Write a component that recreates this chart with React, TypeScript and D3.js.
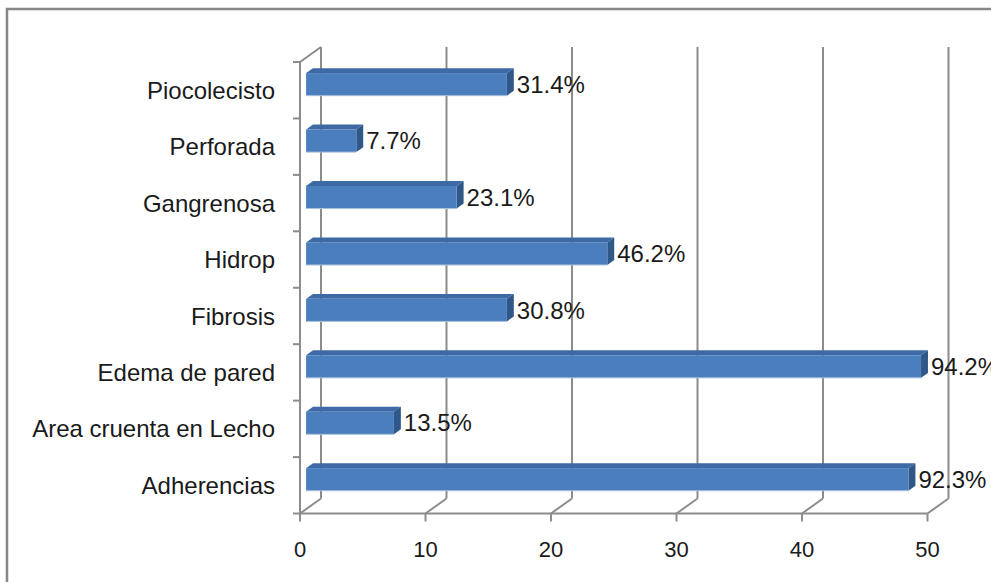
import React from "react";
import * as d3 from "d3";

const categories = [
  "Piocolecisto",
  "Perforada",
  "Gangrenosa",
  "Hidrop",
  "Fibrosis",
  "Edema de pared",
  "Area cruenta en Lecho",
  "Adherencias",
];
const values = [16, 4, 12, 24, 16, 49, 7, 48];
const labels = ["31.4%", "7.7%", "23.1%", "46.2%", "30.8%", "94.2%", "13.5%", "92.3%"];
const xTicks = [0, 10, 20, 30, 40, 50];

const W = 991;
const H = 582;
const DX = 21;
const DY = -15;
const F1 = 0.29;
const F2 = 0.62;
const FONT = "'Liberation Sans', Arial, sans-serif";
const GRID = "#8c8c8c";

export default function App() {
  const x = d3.scaleLinear().domain([0, 50]).range([300, 927.5]);
  const y = d3.scaleBand<string>().domain(categories).range([62, 513.5]).padding(0);
  const bw = y.bandwidth();
  const bh = bw / 2.5;
  const x0 = x(0);
  const yTop = 62;
  const yBot = 513.5;

  return (
    <svg
      width={W}
      height={H}
      style={{ position: "absolute", left: 0, top: 0, background: "#fff" }}
      fontFamily={FONT}
    >
      <rect x={7} y={9} width={1100} height={700} fill="#fff" stroke="#878787" strokeWidth={2.5} />
      {/* back wall gridlines */}
      {xTicks.map((t) => (
        <g key={"g" + t}>
          <line x1={x(t) + DX} x2={x(t) + DX} y1={yTop + DY} y2={yBot + DY} stroke={GRID} strokeWidth={2} />
          <line x1={x(t)} x2={x(t) + DX} y1={yBot} y2={yBot + DY} stroke={GRID} strokeWidth={2} />
          <line x1={x(t)} x2={x(t)} y1={yBot} y2={yBot + 8} stroke={GRID} strokeWidth={2} />
          <text x={x(t)} y={557} textAnchor="middle" fontSize={22} fill="#1a1a1a">
            {t}
          </text>
        </g>
      ))}
      {/* side wall / axis */}
      <line x1={x0} x2={x0} y1={yTop} y2={yBot} stroke={GRID} strokeWidth={2} />
      <line x1={x0} x2={x0 + DX} y1={yTop} y2={yTop + DY} stroke={GRID} strokeWidth={2} />
      <line x1={x0} x2={x(50)} y1={yBot} y2={yBot} stroke={GRID} strokeWidth={2} />
      {categories.map((c, i) => (
        <line key={"t" + i} x1={x0 - 7} x2={x0} y1={y(c)!} y2={y(c)!} stroke={GRID} strokeWidth={2} />
      ))}
      <line x1={x0 - 7} x2={x0} y1={yBot} y2={yBot} stroke={GRID} strokeWidth={2} />
      {/* bars */}
      {categories.map((c, i) => {
        const cy = y(c)! + bw / 2 + F1 * DY - 1.5;
        const fx = x0 + F1 * DX;
        const fx2 = x(values[i]) + F1 * DX;
        const top = cy - bh / 2;
        const bot = cy + bh / 2;
        const ddx = (F2 - F1) * DX;
        const ddy = (F2 - F1) * DY;
        return (
          <g key={"b" + i}>
            <path
              d={`M${fx},${top} L${fx + ddx},${top + ddy} L${fx2 + ddx},${top + ddy} L${fx2},${top} Z`}
              fill="#3d6aa4"
            />
            <path
              d={`M${fx2},${top} L${fx2 + ddx},${top + ddy} L${fx2 + ddx},${bot + ddy} L${fx2},${bot} Z`}
              fill="#2f5888"
            />
            <rect x={fx} y={top} width={fx2 - fx} height={bh} fill="#4a7ebd" />
            <line x1={fx} x2={fx2} y1={bot} y2={bot} stroke="#a9c0dd" strokeWidth={1} />
            <text x={fx2 + ddx + 3} y={cy + 8.5} fontSize={24} fill="#1a1a1a">
              {labels[i]}
            </text>
          </g>
        );
      })}
      {/* category labels */}
      {categories.map((c, i) => (
        <text key={"c" + i} x={275} y={y(c)! + bw / 2 + 8.6} textAnchor="end" fontSize={24} fill="#1a1a1a">
          {c}
        </text>
      ))}
    </svg>
  );
}
